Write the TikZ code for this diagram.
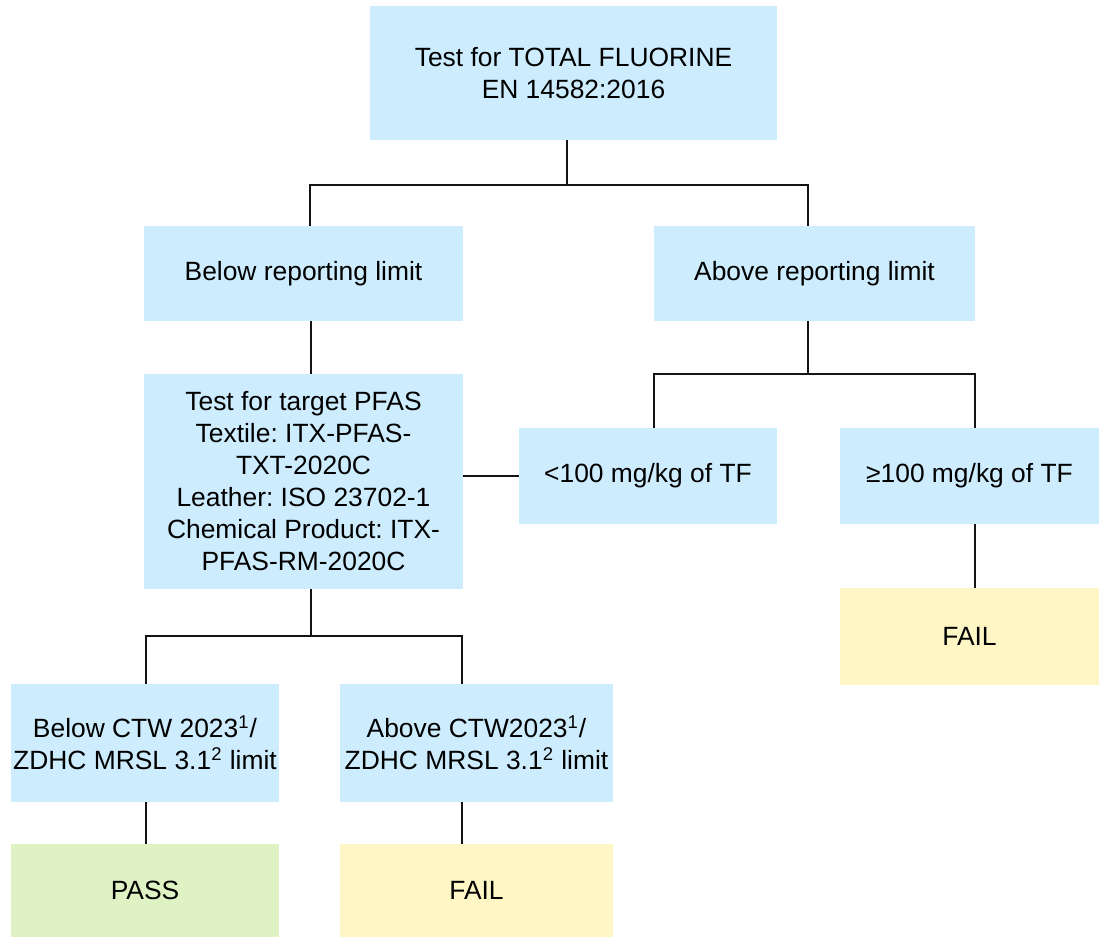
\documentclass[tikz,border=0pt]{standalone}
\usepackage{fontspec}
\setmainfont{Liberation Sans}
\usepackage{xcolor}
\frenchspacing
\definecolor{boxblue}{RGB}{205, 236, 253}
\definecolor{passgreen}{RGB}{222, 242, 196}
\definecolor{failyellow}{RGB}{254, 246, 196}
\definecolor{linedark}{RGB}{20, 20, 20}

\begin{document}
\begin{tikzpicture}[
    x=0.5pt, y=-0.5pt,
    box/.style={rectangle, fill=boxblue, inner sep=0pt, align=center, font=\fontsize{13.2}{16}\selectfont, text=black},
    link/.style={draw=linedark, line width=0.6pt},
]
\useasboundingbox (0, 0) rectangle (1099, 937);

% Total fluorine test
\node[box, minimum width=203.5pt, minimum height=67pt] (tf) at (573.5, 73) {Test for TOTAL FLUORINE\\EN 14582:2016};

% Reporting limit
\node[box, minimum width=159.5pt, minimum height=47.5pt] (belowrl) at (303.5, 273.5) {Below reporting limit};
\node[box, minimum width=160.5pt, minimum height=47.5pt] (aboverl) at (814.5, 273.5) {Above reporting limit};

% Target PFAS test
\node[box, minimum width=159.5pt, minimum height=107.5pt] (pfas) at (303.5, 481.5) {Test for target PFAS\\Textile: ITX-PFAS-\\TXT-2020C\\Leather: ISO 23702-1\\Chemical Product: ITX-\\PFAS-RM-2020C};

% Amount of TF
\node[box, minimum width=129pt, minimum height=48pt] (lt100) at (648, 476) {<100 mg/kg of TF};
\node[box, minimum width=129.5pt, minimum height=48pt] (ge100) at (969.5, 476) {≥100 mg/kg of TF};
\node[box, fill=failyellow, minimum width=129.5pt, minimum height=48.5pt] (failtf) at (969.5, 636.5) {FAIL};

% CTW / ZDHC limits
\node[box, minimum width=134pt, minimum height=59pt] (belowctw) at (145, 743) {Below CTW 2023\textsuperscript{1}/\\ZDHC MRSL 3.1\textsuperscript{2} limit};
\node[box, minimum width=136.5pt, minimum height=59pt] (abovectw) at (476.5, 743) {Above CTW2023\textsuperscript{1}/\\ZDHC MRSL 3.1\textsuperscript{2} limit};
\node[box, fill=passgreen, minimum width=134pt, minimum height=46.5pt] (pass) at (145, 890.5) {PASS};
\node[box, fill=failyellow, minimum width=136.5pt, minimum height=46.5pt] (failctw) at (476.5, 890.5) {FAIL};

% Junctions
\coordinate (jtf) at (567, 185);
\coordinate (jtfl) at (310, 185);
\coordinate (jtfr) at (808, 185);
\coordinate (jrl) at (808, 374);
\coordinate (jrll) at (654, 374);
\coordinate (jrlr) at (975, 374);
\coordinate (jpf) at (311, 636);
\coordinate (jpfl) at (146, 636);
\coordinate (jpfr) at (462, 636);

% Connectors
\draw[link] (tf.south -| jtf) -- (jtf);
\draw[link] (jtfl |- belowrl.north) -- (jtfl) -- (jtfr) -- (jtfr |- aboverl.north);
\draw[link] (belowrl.south -| jpf) -- (pfas.north -| jpf);
\draw[link] (aboverl.south -| jrl) -- (jrl);
\draw[link] (jrll |- lt100.north) -- (jrll) -- (jrlr) -- (jrlr |- ge100.north);
\draw[link] (pfas.east |- lt100.west) -- (lt100.west);
\draw[link] (ge100.south -| jrlr) -- (failtf.north -| jrlr);
\draw[link] (pfas.south -| jpf) -- (jpf);
\draw[link] (jpfl |- belowctw.north) -- (jpfl) -- (jpfr) -- (jpfr |- abovectw.north);
\draw[link] (belowctw.south -| jpfl) -- (pass.north -| jpfl);
\draw[link] (abovectw.south -| jpfr) -- (failctw.north -| jpfr);

\end{tikzpicture}
\end{document}
